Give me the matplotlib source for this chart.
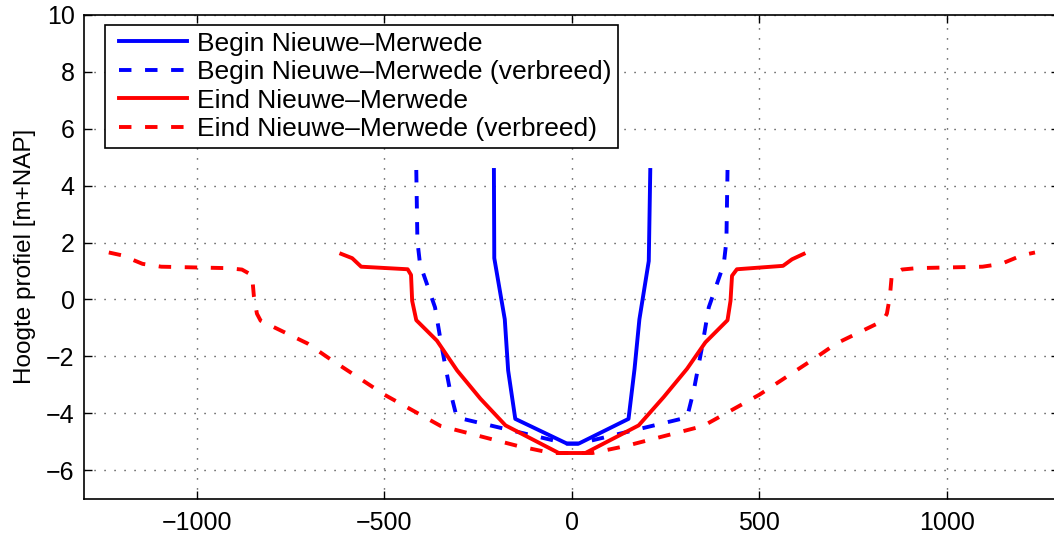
import matplotlib
matplotlib.use('Agg')
import matplotlib.pyplot as plt
from matplotlib.legend_handler import HandlerLine2D

# dwarsprofielen Nieuwe-Merwede (afstand t.o.v. as [m], hoogte [m+NAP])
begin_x = [-208, -207, -179, -170, -151, -13, 18, 151, 167, 180, 205, 209]
begin_y = [4.55, 1.45, -0.7, -2.5, -4.2, -5.07, -5.07, -4.2, -2.45, -0.7, 1.35, 4.55]

begin_wide_x = [-415, -412, -405, -365, -347, -325, -307, -13, 18,
                307, 325, 347, 365, 405, 412, 415]
begin_wide_y = [4.55, 2.05, 1.24, -0.28, -1.68, -3.2, -4.15, -5.07, -5.07,
                -4.15, -3.2, -1.68, -0.28, 1.24, 2.05, 4.55]

eind_x = [-615, -586, -562, -438, -429, -426, -415, -360, -306, -244, -177, -35,
          36, 178, 245, 307, 356, 415, 423, 427, 440, 563, 587, 618]
eind_y = [1.6, 1.45, 1.15, 1.06, 0.86, -0.05, -0.73, -1.45, -2.5, -3.49, -4.43, -5.4,
          -5.4, -4.43, -3.43, -2.44, -1.51, -0.73, -0.05, 0.83, 1.06, 1.18, 1.41, 1.6]

eind_wide_x = [-1235, -1200, -1145, -1095, -920, -880, -853, -848, -840, -830,
               -705, -650, -500, -350, -145, -55, 55, 145, 350, 500, 650, 705,
               830, 840, 848, 853, 880, 920, 1095, 1145, 1200, 1235]
eind_wide_y = [1.65, 1.55, 1.25, 1.15, 1.1, 1.05, 0.85, 0.1, -0.5, -0.75,
               -1.55, -2.05, -3.35, -4.45, -5.15, -5.4, -5.4, -5.15, -4.45, -3.35, -2.05, -1.55,
               -0.75, -0.5, 0.1, 0.85, 1.05, 1.1, 1.15, 1.25, 1.55, 1.65]

labels = ['Begin Nieuwe\u2013Merwede', 'Begin Nieuwe\u2013Merwede (verbreed)',
          'Eind Nieuwe\u2013Merwede', 'Eind Nieuwe\u2013Merwede (verbreed)']

plt.rcParams['font.family'] = ['Liberation Sans', 'DejaVu Sans']
plt.rcParams['axes.unicode_minus'] = True

fig = plt.figure(figsize=(10.54, 5.33), dpi=100)
ax = fig.add_axes([0.0801, 0.0647, 0.925, 0.9072])

lw = 2.8
dash = (3.2, 3.5)
ax.plot(begin_x, begin_y, color='blue', lw=lw, label=labels[0])
ax.plot(begin_wide_x, begin_wide_y, color='blue', lw=lw, dashes=dash, label=labels[1])
ax.plot(eind_x, eind_y, color='red', lw=lw, label=labels[2])
ax.plot(eind_wide_x, eind_wide_y, color='red', lw=lw, dashes=dash, label=labels[3])

ax.set_xlim(-1300, 1300)
ax.set_ylim(-7, 10)
ax.set_xticks([-1000, -500, 0, 500, 1000])
ax.set_yticks(range(-6, 11, 2))
ax.grid(True, linestyle=(0, (0.8, 6.4)), color='0.15', lw=1.0)
ax.tick_params(direction='in', top=True, right=True, length=6, width=1,
               labelsize=18)
ax.tick_params(axis='x', pad=9)
ax.tick_params(axis='y', pad=7)
for s in ax.spines.values():
    s.set_linewidth(1.2)

ax.set_ylabel('Hoogte profiel [m+NAP]', fontsize=17.5)
ax.yaxis.set_label_coords(-0.05, 0.5)

leg = ax.legend(loc='upper left', bbox_to_anchor=(0.0211, 0.979), borderaxespad=0,
                fontsize=19, handlelength=2.87, handletextpad=0.36, labelspacing=0.17,
                borderpad=0.25, fancybox=False, framealpha=1, edgecolor='black',
                handler_map={plt.Line2D: HandlerLine2D(xpad=0.28)})
leg.get_frame().set_linewidth(1.2)

fig.savefig('out.png', dpi=100)
